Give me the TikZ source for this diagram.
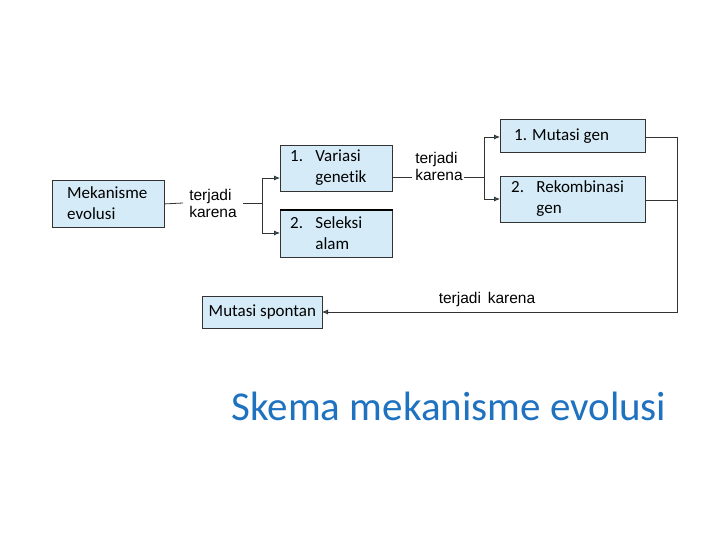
\documentclass[tikz,border=0pt]{standalone}
\usepackage{fontspec}
\usetikzlibrary{arrows.meta}
\setmainfont{Carlito}[Ligatures=NoCommon]
\newfontfamily\lab{Liberation Sans}
\definecolor{boxfill}{HTML}{D5ECF8}
\definecolor{tit}{HTML}{1F72BF}
\definecolor{arr}{HTML}{2A6A8A}
\begin{document}
\begin{tikzpicture}[x=1pt,y=-1pt,
  bx/.style={draw=black!80,fill=boxfill,line width=0.8pt,anchor=north west,inner sep=0pt},
  tx/.style={align=left,anchor=west,inner sep=0pt,font=\fontsize{17}{21}\selectfont},
  ln/.style={draw=black!80,line width=0.8pt},
  ar/.style={ln,-{Latex[length=6pt,width=5pt,fill=arr]}},
  lb/.style={font=\lab\fontsize{15.5}{17}\selectfont,align=left,inner sep=0pt}]
\useasboundingbox (0,0) rectangle (720,540);
\node[bx,minimum width=112pt,minimum height=47pt] (mek) at (52,180) {};
\node[tx] at (67,203) {Mekanisme\\evolusi};
\node[bx,minimum width=112pt,minimum height=46pt] (var) at (280,145) {};
\node[tx] at (290,168) {1.\enspace\ Variasi\\\phantom{1.\enspace\ }genet\kern0ptik};
\node[bx,minimum width=112pt,minimum height=47pt] (sel) at (280,210) {};
\draw[line width=1.6pt] (sel.north west) -- (sel.north east);
\node[tx] at (290,233) {2.\enspace\ Seleksi\\\phantom{2.\enspace\ }alam};
\node[bx,minimum width=145pt,minimum height=33pt] (mg) at (500,119) {};
\node[tx] at (514,136) {1. Mutasi gen};
\node[bx,minimum width=145pt,minimum height=46pt] (rek) at (500,176) {};
\node[tx] at (511,199) {2.\enspace\ Rekombinasi\\\phantom{2.\enspace\ }gen};
\node[bx,minimum width=120pt,minimum height=32pt] (ms) at (202,296) {};
\node[font=\fontsize{17}{20}\selectfont,inner sep=0pt] at (ms.center) {Mutasi spontan};
\node[lb] (l1) at (213,203) {terjadi\\karena};
\node[lb] (l2) at (439,166) {terjadi\\karena};
\node[lb] (l3) at (487,299) {terjadi\, karena};
\coordinate (a1) at (262,203);
\coordinate (a2) at (484,177);
\coordinate (c1) at (677,137);
\coordinate (c2) at (677,200);
\coordinate (c3) at (677,312);
\draw[ln] (mek.east) -- (183,203);
\draw[ln] (243,203) -- (a1);
\draw[ar] (262,233) -- (262,178) -- (280,178);
\draw[ar] (262,205) -- (262,233) -- (280,233);
\draw[ln] (392,177) -- (412,177);
\draw[ln] (464,177) -- (a2);
\draw[ar] (484,199) -- (484,137) -- (500,137);
\draw[ar] (484,180) -- (484,199) -- (500,199);
\draw[ln] (645,137) -- (c1);
\draw[ln] (645,200) -- (c2);
\draw[ar] (c1) -- (c3) -- (322,312);
\node[text=tit,font=\fontsize{41}{46}\selectfont] (t) at (449,406) {Skema mekanisme evolusi};
\end{tikzpicture}
\end{document}
